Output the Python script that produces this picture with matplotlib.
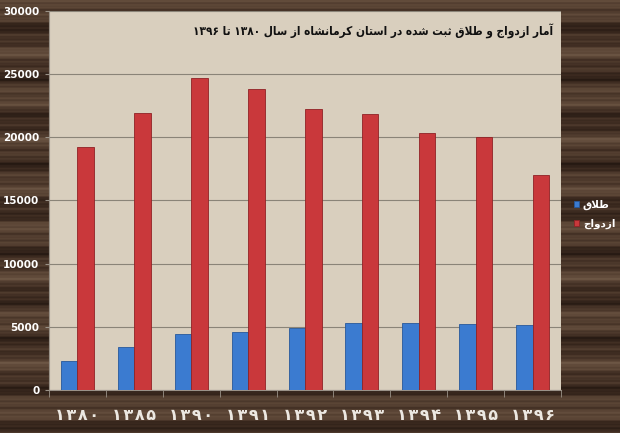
import unicodedata
import numpy as np
import matplotlib
matplotlib.use("Agg")
import matplotlib.pyplot as plt
from matplotlib.colors import LinearSegmentedColormap

years = ["۱۳۸۰", "۱۳۸۵", "۱۳۹۰", "۱۳۹۱", "۱۳۹۲", "۱۳۹۳", "۱۳۹۴", "۱۳۹۵", "۱۳۹۶"]
divorce = [2300, 3450, 4450, 4600, 4900, 5300, 5300, 5200, 5150]
marriage = [19200, 21900, 24700, 23800, 22200, 21850, 20300, 20000, 17000]
label_divorce = "طلاق"
label_marriage = "ازدواج"
title = "آمار ازدواج و طلاق ثبت شده در استان کرمانشاه از سال ۱۳۸۰ تا ۱۳۹۶"

# letters that only join to the previous letter
RIGHT_ONLY = set("اآأإدذرزژوؤة")


def is_letter(c):
    return c is not None and unicodedata.category(c) == "Lo" and "ARABIC" in unicodedata.name(c, "")


def form(c, f):
    try:
        return unicodedata.lookup(unicodedata.name(c) + " " + f + " FORM")
    except KeyError:
        return c


def shape(text):
    # crude arabic shaping + bidi, no external libs
    out = []
    i = 0
    n = len(text)
    while i < n:
        c = text[i]
        prev = text[i - 1] if i > 0 else None
        nxt = text[i + 1] if i + 1 < n else None
        joins_prev = is_letter(c) and is_letter(prev) and prev not in RIGHT_ONLY
        if c == "ل" and nxt in ("ا", "آ"):
            base = "ARABIC LIGATURE LAM WITH ALEF" + (" WITH MADDA ABOVE" if nxt == "آ" else "")
            out.append(unicodedata.lookup(base + (" FINAL FORM" if joins_prev else " ISOLATED FORM")))
            i += 2
            continue
        if not is_letter(c):
            out.append(c)
            i += 1
            continue
        joins_next = c not in RIGHT_ONLY and is_letter(nxt)
        if joins_prev and joins_next:
            out.append(form(c, "MEDIAL"))
        elif joins_prev:
            out.append(form(c, "FINAL"))
        elif joins_next:
            out.append(form(c, "INITIAL"))
        else:
            out.append(form(c, "ISOLATED"))
        i += 1
    s = "".join(out)
    # reverse, keeping digit runs left to right
    runs = []
    for ch in s:
        d = ch.isdigit()
        if runs and runs[-1][0] == d:
            runs[-1][1].append(ch)
        else:
            runs.append([d, [ch]])
    res = ""
    for d, chars in reversed(runs):
        res += "".join(chars) if d else "".join(reversed(chars))
    return res


fig = plt.figure(figsize=(6.2, 4.33), dpi=100)
fig.patch.set_facecolor("#3a2a20")

# wood-ish streaks behind everything
bg = fig.add_axes([0, 0, 1, 1], zorder=-10)
yy = np.linspace(0, 1, 433)
stripes = (0.45 + 0.18 * np.sin(yy * 61 + 0.4) + 0.12 * np.sin(yy * 157 + 1.3)
           + 0.08 * np.sin(yy * 389 + 2.1) + 0.05 * np.sin(yy * 811))
wood = LinearSegmentedColormap.from_list("wood", ["#20150f", "#3e2c21", "#5e4838", "#7a6450"])
bg.imshow(np.tile(stripes[:, None], (1, 10)), aspect="auto", cmap=wood,
          vmin=0.0, vmax=1.0, extent=[0, 1, 0, 1])
bg.axis("off")

ax = fig.add_axes([0.079, 0.099, 0.826, 0.876])
ax.set_facecolor("#d9cfbe")

x = np.arange(len(years))
w = 0.29
ax.bar(x - w / 2, divorce, w, color="#3b7bd0", edgecolor="#27589a", linewidth=0.6,
       label=shape(label_divorce), zorder=3)
ax.bar(x + w / 2, marriage, w, color="#c9383b", edgecolor="#902225", linewidth=0.6,
       label=shape(label_marriage), zorder=3)

ax.set_xlim(-0.5, len(years) - 0.5)
ax.set_ylim(0, 30000)
ax.set_yticks(range(0, 30001, 5000))
ax.yaxis.grid(True, color="#8a8478", linewidth=0.8, zorder=1)
ax.set_axisbelow(True)

ax.set_xticks(x)
ax.set_xticklabels(["\u200a".join(y) for y in years], color="#ece8e2", fontsize=11.5,
                   fontweight="bold", family="DejaVu Sans")
ax.set_xticks(np.arange(-0.5, len(years)), minor=True)
ax.tick_params(axis="x", which="major", length=0, pad=13)
ax.tick_params(axis="x", which="minor", length=5, color="#9a9288")
ax.tick_params(axis="y", length=3, color="#9a9288", labelcolor="white", labelsize=7.5, pad=4)
for lbl in ax.get_yticklabels():
    lbl.set_fontweight("bold")

for s in ["top", "right"]:
    ax.spines[s].set_visible(False)
for s in ["left", "bottom"]:
    ax.spines[s].set_color("#9a9288")

ax.text(0.985, 0.945, shape(title), transform=ax.transAxes, ha="right", va="center",
        fontsize=8.5, fontweight="bold", fontstretch="condensed", color="#111111",
        family="DejaVu Sans")

leg = fig.legend(loc="center left", bbox_to_anchor=(0.925, 0.505), frameon=False,
                 borderpad=0, borderaxespad=0,
                 handlelength=0.5, handleheight=0.5, handletextpad=0.4, labelspacing=0.9,
                 prop={"family": "DejaVu Sans", "weight": "bold", "size": 7.5})
for t in leg.get_texts():
    t.set_color("white")

fig.savefig("out.png", dpi=100, facecolor=fig.get_facecolor())
